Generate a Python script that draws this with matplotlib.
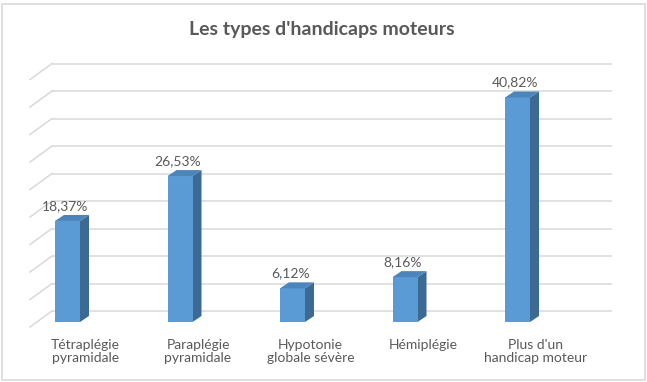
import matplotlib
matplotlib.use("Agg")
import matplotlib.pyplot as plt
from matplotlib.patches import Polygon, Rectangle

# ---- data ----
categories = ["Tétraplégie\npyramidale", "Paraplégie\npyramidale",
              "Hypotonie\nglobale sévère", "Hémiplégie",
              "Plus d'un\nhandicap moteur"]
values = [18.37, 26.53, 6.12, 8.16, 40.82]
value_labels = ["18,37%", "26,53%", "6,12%", "8,16%", "40,82%"]
grid_values = [0, 5, 10, 15, 20, 25, 30, 35, 40, 45]
title = "Les types d'handicaps moteurs"

# ---- layout / style ----
W, H = 647, 382
PX_X = 112.5   # pixels per category
PX_Y = 5.5     # pixels per percent
X0_PX = 67.5   # pixel of category 0 centre
Y0_PX = 322.0  # pixel of value 0 (front)
FONT = "Lato"
TXT = "#595959"
FRONT = "#5B9BD5"
SIDE = "#3D6A93"
TOP = "#4C85BC"
GRID = "#D9D9D9"

bar_w = 25 / PX_X
bar_dx = 9 / PX_X
bar_dy = 6 / PX_Y
wall_dy = 11 / PX_Y
wall_x0 = (52 - X0_PX) / PX_X
wall_x1 = (612 - X0_PX) / PX_X
side_x = (30 - X0_PX) / PX_X
side_dy = -(327 - Y0_PX) / PX_Y

fig = plt.figure(figsize=(W / 100, H / 100), dpi=100)
fig.patches.append(Rectangle((1.5 / W, 1 - 379.5 / H), 643 / W, 376 / H,
                             transform=fig.transFigure, fill=False,
                             edgecolor="#D9D9D9", lw=1.2))

xl = (-0.6, 4.9)
yl = (-5, 50)
left_px = X0_PX + xl[0] * PX_X
right_px = X0_PX + xl[1] * PX_X
bot_px = Y0_PX - yl[0] * PX_Y
top_px = Y0_PX - yl[1] * PX_Y
ax = fig.add_axes([left_px / W, 1 - bot_px / H, (right_px - left_px) / W,
                   (bot_px - top_px) / H])
ax.set_xlim(*xl)
ax.set_ylim(*yl)
ax.axis("off")

# gridlines on back wall + side wall diagonals
for g in grid_values:
    ax.plot([wall_x0, wall_x1], [g + wall_dy, g + wall_dy], color=GRID,
            lw=1.1, zorder=1, solid_capstyle="butt")
    ax.plot([side_x, wall_x0], [g + side_dy, g + wall_dy], color=GRID,
            lw=1.1, zorder=1)

# bars
xs = list(range(len(values)))
ax.bar(xs, values, width=bar_w, color=FRONT, zorder=3, linewidth=0)
for x, v, lab, cat in zip(xs, values, value_labels, categories):
    l, r = x - bar_w / 2, x + bar_w / 2
    side = Polygon([(r, 0), (r + bar_dx, bar_dy), (r + bar_dx, v + bar_dy),
                    (r, v)], closed=True, facecolor=SIDE, edgecolor="none",
                   zorder=2.9)
    top = Polygon([(l, v), (r, v), (r + bar_dx, v + bar_dy),
                   (l + bar_dx, v + bar_dy)], closed=True, facecolor=TOP,
                  edgecolor="none", zorder=3.1)
    ax.add_patch(side)
    ax.add_patch(top)
    ax.text(x - 0.02, v + 15 / PX_Y, lab, ha="center", va="center",
            fontsize=10, color=TXT, family=FONT, zorder=4)
    ax.text(x + 0.16, -(339 - Y0_PX) / PX_Y, cat, ha="center", va="top",
            fontsize=10, color=TXT, family=FONT, linespacing=1.15,
            clip_on=False)

fig.text(321.5 / W, 1 - 30 / H, title, ha="center", va="center",
         fontsize=14, fontweight="bold", color=TXT, family=FONT)

fig.savefig("out.png", dpi=100)
